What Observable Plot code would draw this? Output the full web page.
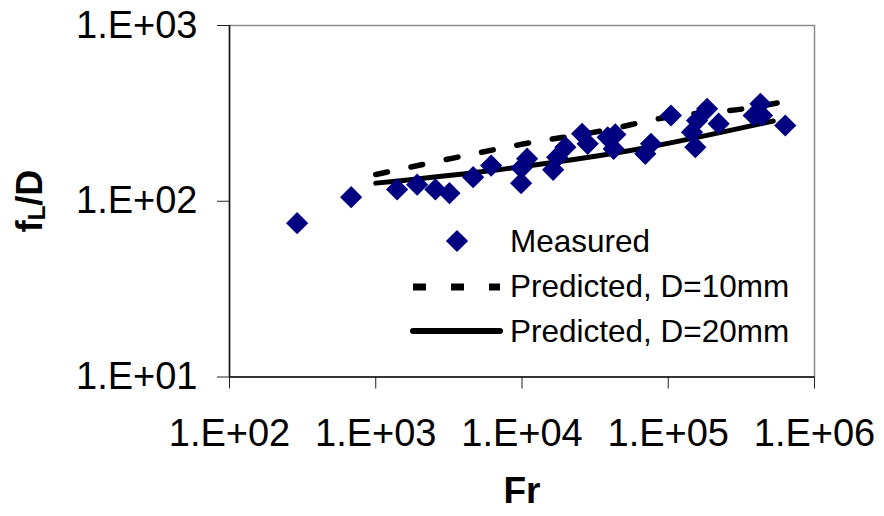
<!DOCTYPE html>
<html>
<head>
<meta charset="utf-8">
<script src="https://cdn.jsdelivr.net/npm/d3@7"></script>
<script src="https://cdn.jsdelivr.net/npm/@observablehq/plot@0.6"></script>
<style>
  html, body { margin: 0; padding: 0; background: #fff; }
  #chart { position: relative; width: 884px; height: 516px; }
</style>
</head>
<body>
<div id="chart"></div>
<script>
// Measured data (Fr, fL/D)
const measuredFr  = [290, 679, 1400, 1919, 2558, 3190, 4634, 6153, 9863, 10840, 9910, 16330, 17390, 19800, 25760, 28130, 38540, 43460, 42330, 69660, 76200, 104400, 153100, 145400, 157400, 184300, 221100, 383800, 426600, 437600, 631000];
const measuredFLD = [75.0, 105.5, 116.7, 124.2, 116.7, 111.2, 137.1, 159.6, 126.7, 174.6, 154.5, 151.0, 178.2, 203.2, 242.1, 212.3, 231.1, 239.9, 198.6, 186.2, 212.3, 307.6, 203.2, 247.2, 287.7, 335.7, 276.2, 307.6, 358.3, 307.6, 269.8];

// Predicted, D=10mm
const pred10Fr  = [1000, 3451, 10370, 34360, 108400, 347300, 602000];
const pred10FLD = [141.9, 176.6, 212.3, 250.6, 305, 338, 366.5];

// Predicted, D=20mm
const pred20Fr  = [1000, 7112, 55080, 522400];
const pred20FLD = [126.8, 151.7, 194.5, 286.3];

const xTicks = [1e2, 1e3, 1e4, 1e5, 1e6];
const yTicks = [1e1, 1e2, 1e3];

const legendLabels = ["Measured", "Predicted, D=10mm", "Predicted, D=20mm"];
const xTitle = "Fr";

const fmt = d => "1.E+" + String(Math.round(Math.log10(d))).padStart(2, "0");

const measured = measuredFr.map((x, i) => ({x, y: measuredFLD[i]}));
const pred10 = pred10Fr.map((x, i) => ({x, y: pred10FLD[i]}));
const pred20 = pred20Fr.map((x, i) => ({x, y: pred20FLD[i]}));

const font = "'Liberation Sans', Arial, sans-serif";

const chart = Plot.plot({
  width: 884,
  height: 516,
  marginLeft: 229,
  marginRight: 70,
  marginTop: 25,
  marginBottom: 139.5,
  x: {type: "log", domain: [1e2, 1e6]},
  y: {type: "log", domain: [10, 1000]},
  style: {fontFamily: font, background: "#fff", color: "#000", overflow: "visible"},
  marks: [
    Plot.frame({stroke: "#8c8c8c", strokeWidth: 1.5}),
    Plot.axisX({ticks: xTicks, tickFormat: fmt, tickSize: 12, tickPadding: 30, fontSize: 38, label: null, stroke: "#222"}),
    Plot.axisY({ticks: yTicks, tickFormat: fmt, tickSize: 12, tickPadding: 20, fontSize: 38, label: null, stroke: "#222"}),
    Plot.ruleX([1e2], {stroke: "#111", strokeWidth: 1.5}),
    Plot.ruleY([10], {stroke: "#111", strokeWidth: 1.5}),
    Plot.line(pred20, {x: "x", y: "y", stroke: "#000", strokeWidth: 5, curve: "monotone-x"}),
    Plot.line(pred10, {x: "x", y: "y", stroke: "#000", strokeWidth: 5.5, strokeDasharray: "12,24", curve: "monotone-x"}),
    Plot.dot(measured, {x: "x", y: "y", symbol: "diamond2", r: 10, fill: "#000080", stroke: "none"})
  ]
});

document.getElementById("chart").appendChild(chart);

const svg = d3.select(chart);

// X title
svg.append("text")
  .attr("x", 522).attr("y", 503)
  .attr("text-anchor", "middle")
  .style("font-family", font).style("font-weight", "bold").style("font-size", "37px")
  .attr("fill", "#000")
  .text(xTitle);

// Y title with subscript
const yt = svg.append("text")
  .attr("transform", "translate(42,201) rotate(-90)")
  .attr("text-anchor", "middle")
  .style("font-family", font).style("font-weight", "bold").style("font-size", "36px")
  .attr("fill", "#000");
yt.append("tspan").text("f");
yt.append("tspan").attr("dy", 3).style("font-size", "24px").text("L");
yt.append("tspan").attr("dy", -3).text("/D");

// Legend
const lg = svg.append("g").style("font-family", font).style("font-size", "31.5px")
  .attr("text-anchor", "start");
lg.append("path")
  .attr("d", d3.symbol(d3.symbolDiamond2, Math.PI * 100)())
  .attr("transform", "translate(457,241)")
  .attr("fill", "#000080");
lg.append("line").attr("x1", 413).attr("x2", 500).attr("y1", 287).attr("y2", 287)
  .attr("stroke", "#000").attr("stroke-width", 7).attr("stroke-dasharray", "13,25");
lg.append("line").attr("x1", 413).attr("x2", 500).attr("y1", 331).attr("y2", 331)
  .attr("stroke", "#000").attr("stroke-width", 6).attr("stroke-linecap", "round");
[241, 286, 331].forEach((y, i) => {
  lg.append("text").attr("x", 510).attr("y", y).attr("dy", "0.36em")
    .attr("text-anchor", "start")
    .attr("fill", "#000").text(legendLabels[i]);
});
</script>
</body>
</html>
